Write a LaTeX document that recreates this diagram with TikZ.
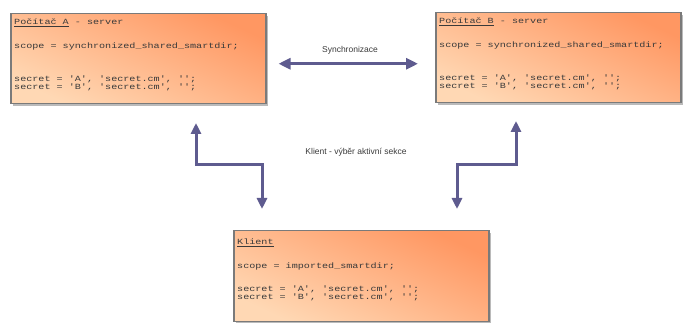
\documentclass[tikz,border=0pt]{standalone}
\usepackage{fontspec}
\setmainfont{Liberation Sans}
\newfontfamily\boxmono[FakeStretch=1.28]{Liberation Mono}
\usetikzlibrary{arrows.meta,shadows}
\definecolor{arrowc}{HTML}{5E5B8F}
\definecolor{boxtop}{HTML}{FF9762}
\definecolor{boxbot}{HTML}{FFD8B4}
\definecolor{boxline}{HTML}{7A7A7A}
\definecolor{txt}{HTML}{3A3A3A}
\tikzset{
  pcbox/.style={draw=boxline, line width=1.5pt, top color=boxtop, bottom color=boxbot,
    shading angle=-25, inner sep=0pt,
    drop shadow={shadow xshift=2pt, shadow yshift=-2pt, opacity=0.45, fill=black!60}},
  boxtext/.style={anchor=north west, align=left, inner sep=0pt, text=txt,
    font=\boxmono\fontsize{7.9}{8.6}\selectfont},
  lbl/.style={text=txt, font=\fontsize{8.5}{10}\selectfont, inner sep=0pt},
  conn/.style={draw=arrowc, line width=3pt,
    arrows={-Triangle[length=11pt,width=10pt]}},
  bconn/.style={draw=arrowc, line width=3pt,
    arrows={Triangle[length=12pt,width=11pt]-Triangle[length=12pt,width=11pt]}}
}
\begin{document}
\begin{tikzpicture}[x=1pt,y=1pt]
\useasboundingbox (0,0) rectangle (686,-323);
% boxes
\node[pcbox, minimum width=255pt, minimum height=90pt, anchor=north west] (A) at (10,-13) {};
\node[pcbox, minimum width=245pt, minimum height=90pt, anchor=north west] (B) at (435,-12) {};
\node[pcbox, minimum width=255pt, minimum height=91pt, anchor=north west] (C) at (233,-230) {};
% texts
\node[boxtext] (At) at ([xshift=4pt,yshift=-6pt]A.north west)
  {\underline{Počítač A} - server\\[15pt]
   scope = synchronized\_shared\_smartdir;\\[24pt]
   secret = 'A', 'secret.cm', '';\\
   secret = 'B', 'secret.cm', '';};
\node[boxtext] (Bt) at ([xshift=4pt,yshift=-6pt]B.north west)
  {\underline{Počítač B} - server\\[15pt]
   scope = synchronized\_shared\_smartdir;\\[24pt]
   secret = 'A', 'secret.cm', '';\\
   secret = 'B', 'secret.cm', '';};
\node[boxtext] (Ct) at ([xshift=4pt,yshift=-9pt]C.north west)
  {\underline{Klient}\\[15pt]
   scope = imported\_smartdir;\\[14pt]
   secret = 'A', 'secret.cm', '';\\
   secret = 'B', 'secret.cm', '';};
% labels
\node[lbl] (sync) at (350,-50) {Synchronizace};
\node[lbl] (kl) at (356,-152) {Klient - výběr aktivní sekce};
% connectors
\draw[bconn] ([xshift=12pt,yshift=-5pt]A.east) -- ([xshift=-17pt,yshift=-6pt]B.west);
\coordinate (la) at (196,-123);
\coordinate (lc) at (262,-209);
\coordinate (ra) at (516,-121);
\coordinate (rc) at (457,-209);
\draw[conn] (lc |- 0,-165) -- (la |- 0,-165) -- (la);
\draw[conn] (la |- 0,-165) -- (lc |- 0,-165) -- (lc);
\draw[conn] (rc |- 0,-165) -- (ra |- 0,-165) -- (ra);
\draw[conn] (ra |- 0,-165) -- (rc |- 0,-165) -- (rc);
\end{tikzpicture}
\end{document}
